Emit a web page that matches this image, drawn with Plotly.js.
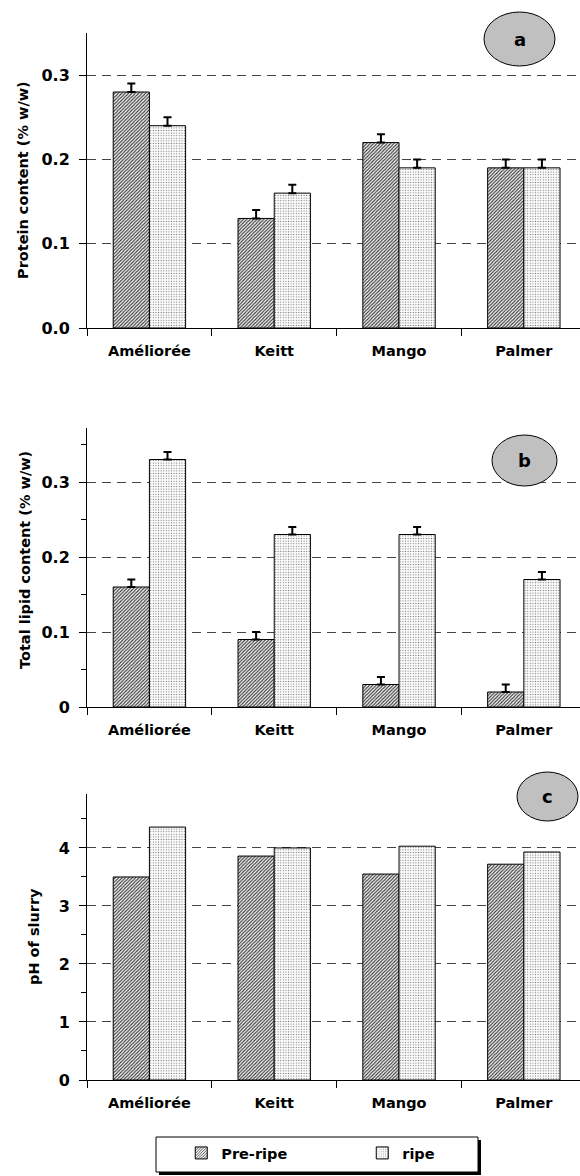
<!DOCTYPE html>
<html>
<head>
<meta charset="utf-8">
<script src="https://cdn.plot.ly/plotly-3.0.1.min.js"></script>
<style>html,body{margin:0;padding:0;background:#fff;}#chart{width:580px;height:1176px;}</style>
</head>
<body>
<div id="chart"></div>
<script>
// ---- data ----
const categories = ['Améliorée', 'Keitt', 'Mango', 'Palmer'];
const seriesNames = ['Pre-ripe', 'ripe'];
const proteinPre = [0.28, 0.13, 0.22, 0.19];
const proteinRipe = [0.24, 0.16, 0.19, 0.19];
const proteinErrPre = [0.01, 0.01, 0.01, 0.01];
const proteinErrRipe = [0.01, 0.01, 0.01, 0.01];
const lipidPre = [0.16, 0.09, 0.03, 0.02];
const lipidRipe = [0.33, 0.23, 0.23, 0.17];
const lipidErrPre = [0.01, 0.01, 0.01, 0.01];
const lipidErrRipe = [0.01, 0.01, 0.01, 0.01];
const phPre = [3.50, 3.86, 3.55, 3.72];
const phRipe = [4.36, 4.00, 4.03, 3.93];
const proteinTicks = [0, 0.1, 0.2, 0.3];
const proteinTickText = ['0.0', '0.1', '0.2', '0.3'];
const lipidTicks = [0, 0.1, 0.2, 0.3];
const lipidTickText = ['0', '0.1', '0.2', '0.3'];
const phTicks = [0, 1, 2, 3, 4];
const phTickText = ['0', '1', '2', '3', '4'];
const panelLabels = ['a', 'b', 'c'];
const yTitles = ['Protein content (% w/w)', 'Total lipid content (% w/w)', 'pH of slurry'];

// ---- styling ----
const W = 580, H = 1176, L = 87, R = 0;
const FAM = 'DejaVu Sans, Verdana, sans-serif';
const FONT = {family: FAM, size: 14.5, color: '#000', weight: 'bold'};
const prePattern = {shape: '/', size: 2.4, solidity: 0.45, fgcolor: '#333', bgcolor: '#fff', fillmode: 'replace'};
const ripePattern = {shape: '.', size: 2.6, solidity: 0.2, fgcolor: '#777', bgcolor: '#fff', fillmode: 'replace'};
const px = x => (x - L) / (W - L - R);
const py = y => 1 - y / H;

function barTrace(name, vals, err, pattern, xa, ya, show) {
  const t = {
    type: 'bar', name: name, x: categories, y: vals, xaxis: xa, yaxis: ya,
    showlegend: show, legendgroup: name,
    marker: {color: '#fff', pattern: pattern, line: {color: '#000', width: 1}},
    hoverinfo: 'skip'
  };
  if (err) {
    t.error_y = {type: 'data', symmetric: false, array: err, arrayminus: err.map(() => 0),
                 color: '#000', thickness: 2, width: 4};
  }
  return t;
}

const data = [
  barTrace(seriesNames[0], proteinPre, proteinErrPre, prePattern, 'x', 'y', true),
  barTrace(seriesNames[1], proteinRipe, proteinErrRipe, ripePattern, 'x', 'y', true),
  barTrace(seriesNames[0], lipidPre, lipidErrPre, prePattern, 'x2', 'y2', false),
  barTrace(seriesNames[1], lipidRipe, lipidErrRipe, ripePattern, 'x2', 'y2', false),
  barTrace(seriesNames[0], phPre, null, prePattern, 'x3', 'y3', false),
  barTrace(seriesNames[1], phRipe, null, ripePattern, 'x3', 'y3', false)
];

function xAxis(anchor) {
  return {
    anchor: anchor, domain: [0, 1], type: 'category', range: [-0.5, 3.45],
    tickson: 'boundaries', ticks: 'outside', ticklen: 7, tickcolor: '#000', tickwidth: 1,
    showline: true, linecolor: '#000', linewidth: 1, showgrid: false, zeroline: false,
    tickfont: FONT, ticklabelstandoff: 10, automargin: false, fixedrange: true
  };
}
function yAxis(anchor, domain, range, tv, tt, minorDtick) {
  const a = {
    anchor: anchor, domain: domain, range: range, tickmode: 'array', tickvals: tv, ticktext: tt,
    ticks: 'outside', ticklen: 7, tickcolor: '#000', tickwidth: 1,
    showline: true, linecolor: '#000', linewidth: 1, zeroline: false,
    showgrid: true, gridcolor: '#444', gridwidth: 1, griddash: '9px,6px',
    tickfont: {family: FAM, size: 16, color: '#000', weight: 'bold'},
    ticklabelstandoff: 6, automargin: false, fixedrange: true
  };
  if (minorDtick) {
    a.minor = {tickmode: 'linear', tick0: 0, dtick: minorDtick, ticks: 'outside', ticklen: 5,
               tickcolor: '#000', tickwidth: 1, showgrid: false};
  }
  return a;
}

const ellipses = [
  {x0: 484, x1: 555, y0: 12, y1: 66},
  {x0: 492, x1: 557, y0: 435, y1: 486},
  {x0: 517, x1: 578, y0: 772, y1: 821}
];
// y-title placement (pixel centres)
const titlePos = [{x: 23, y: 180}, {x: 25, y: 560}, {x: 34, y: 937}];

const shapes = ellipses.map(e => ({
  type: 'circle', xref: 'paper', yref: 'paper',
  x0: px(e.x0), x1: px(e.x1), y0: py(e.y1), y1: py(e.y0),
  fillcolor: '#c0c0c0', line: {color: '#000', width: 1}, layer: 'above'
}));
// legend drop shadow + box
shapes.push({type: 'rect', xref: 'paper', yref: 'paper',
  x0: px(159), x1: px(481), y0: py(1175), y1: py(1140),
  fillcolor: '#000', line: {width: 0}, layer: 'above'});
shapes.push({type: 'rect', xref: 'paper', yref: 'paper',
  x0: px(156), x1: px(478), y0: py(1172), y1: py(1137),
  fillcolor: '#fff', line: {color: '#000', width: 1}, layer: 'above'});

const annotations = ellipses.map((e, i) => ({
  xref: 'paper', yref: 'paper', x: px((e.x0 + e.x1) / 2), y: py((e.y0 + e.y1) / 2),
  text: panelLabels[i], showarrow: false, font: {family: FAM, size: 18, color: '#000', weight: 'bold'},
  xanchor: 'center', yanchor: 'middle'
})).concat(titlePos.map((p, i) => ({
  xref: 'paper', yref: 'paper', x: px(p.x), y: py(p.y), text: yTitles[i], textangle: -90,
  showarrow: false, font: {family: FAM, size: 14.5, color: '#000', weight: 'bold'},
  xanchor: 'center', yanchor: 'middle'
})));

const layout = {
  width: W, height: H, margin: {l: L, r: R, t: 0, b: 0, pad: 0},
  paper_bgcolor: '#fff', plot_bgcolor: '#fff', font: FONT,
  barmode: 'group', bargap: 0.42, bargroupgap: 0,
  xaxis: xAxis('y'), xaxis2: xAxis('y2'), xaxis3: xAxis('y3'),
  yaxis: yAxis('x', [py(328), py(33)], [0, 0.35], proteinTicks, proteinTickText, null),
  yaxis2: yAxis('x2', [py(707), py(428)], [0, 0.372], lipidTicks, lipidTickText, 0.05),
  yaxis3: yAxis('x3', [py(1080), py(794)], [0, 4.93], phTicks, phTickText, 0.5),
  showlegend: true,
  legend: {
    orientation: 'h', x: px(146), xanchor: 'left', y: py(1137), yanchor: 'top',
    bgcolor: 'rgba(0,0,0,0)', borderwidth: 0, font: FONT,
    entrywidth: 136, traceorder: 'normal',
    title: {text: '\u00a0\u00a0\u00a0\u00a0\u00a0', side: 'left', font: FONT}
  },
  shapes: shapes, annotations: annotations
};

Plotly.newPlot('chart', data, layout, {staticPlot: true, displayModeBar: false});
</script>
</body>
</html>
